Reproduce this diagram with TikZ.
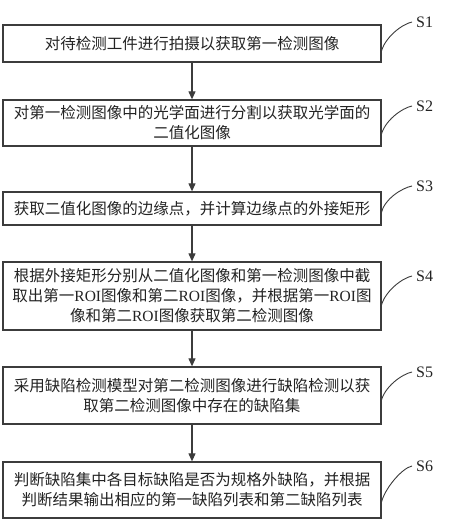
\documentclass[tikz,border=0pt]{standalone}
\usepackage{fontspec}
\setmainfont{Noto Sans CJK SC}
\newfontfamily\latf{Liberation Serif}
\usetikzlibrary{arrows.meta}
\definecolor{ln}{RGB}{60,60,60}
\definecolor{tx}{RGB}{35,35,35}
\tikzset{
  x=1pt, y=-1pt,
  stepbox/.style={draw=ln, line width=1.3pt, minimum width=378pt, inner sep=0pt,
    align=center, text=tx, font=\fontsize{15.5pt}{20pt}\selectfont},
  arr/.style={draw=ln, line width=1.1pt, -{Triangle[length=8pt,width=7pt]}},
  lab/.style={anchor=west, inner sep=0pt, text=tx, font=\latf\fontsize{16pt}{18pt}\selectfont},
  curv/.style={draw=ln, line width=0.9pt}
}
\newcommand{\roi}{{\latf ROI}}
\begin{document}
\begin{tikzpicture}
\useasboundingbox (0,0) rectangle (454,522);
\fill[white] (0,0) rectangle (454,522);
\node[stepbox, minimum height=37pt] (b1) at (192,43.5) {对待检测工件进行拍摄以获取第一检测图像};
\node[stepbox, minimum height=46pt] (b2) at (192,123) {对第一检测图像中的光学面进行分割以获取光学面的\\二值化图像};
\node[stepbox, minimum height=33pt] (b3) at (192,208.5) {获取二值化图像的边缘点，并计算边缘点的外接矩形};
\node[stepbox, minimum height=68pt] (b4) at (192,296) {根据外接矩形分别从二值化图像和第一检测图像中截\\取出第一\roi 图像和第二\roi 图像，并根据第一\roi 图\\像和第二\roi 图像获取第二检测图像};
\node[stepbox, minimum height=57pt] (b5) at (192,395.5) {采用缺陷检测模型对第二检测图像进行缺陷检测以获\\取第二检测图像中存在的缺陷集};
\node[stepbox, minimum height=56pt] (b6) at (192,490) {判断缺陷集中各目标缺陷是否为规格外缺陷，并根据\\判断结果输出相应的第一缺陷列表和第二缺陷列表};
\draw[arr] (b1.south) -- (b2.north);
\draw[arr] (b2.south) -- (b3.north);
\draw[arr] (b3.south) -- (b4.north);
\draw[arr] (b4.south) -- (b5.north);
\draw[arr] (b5.south) -- (b6.north);
\node[lab] (l1) at (416,22) {S1};
\node[lab] (l2) at (416,106) {S2};
\node[lab] (l3) at (416,186) {S3};
\node[lab] (l4) at (416,276) {S4};
\node[lab] (l5) at (416,372) {S5};
\node[lab] (l6) at (416,466) {S6};
\coordinate (c1) at (381,53);
\coordinate (c2) at (381,136);
\coordinate (c3) at (381,214);
\coordinate (c4) at (381,307);
\coordinate (c5) at (381,402);
\coordinate (c6) at (381,504);
\foreach \i in {1,...,6}{
  \draw[curv] (c\i) .. controls ([shift={(3,-15)}]c\i) and ([shift={(-14,2)}]l\i.west) .. ([xshift=-4pt]l\i.west);
}
\end{tikzpicture}
\end{document}
